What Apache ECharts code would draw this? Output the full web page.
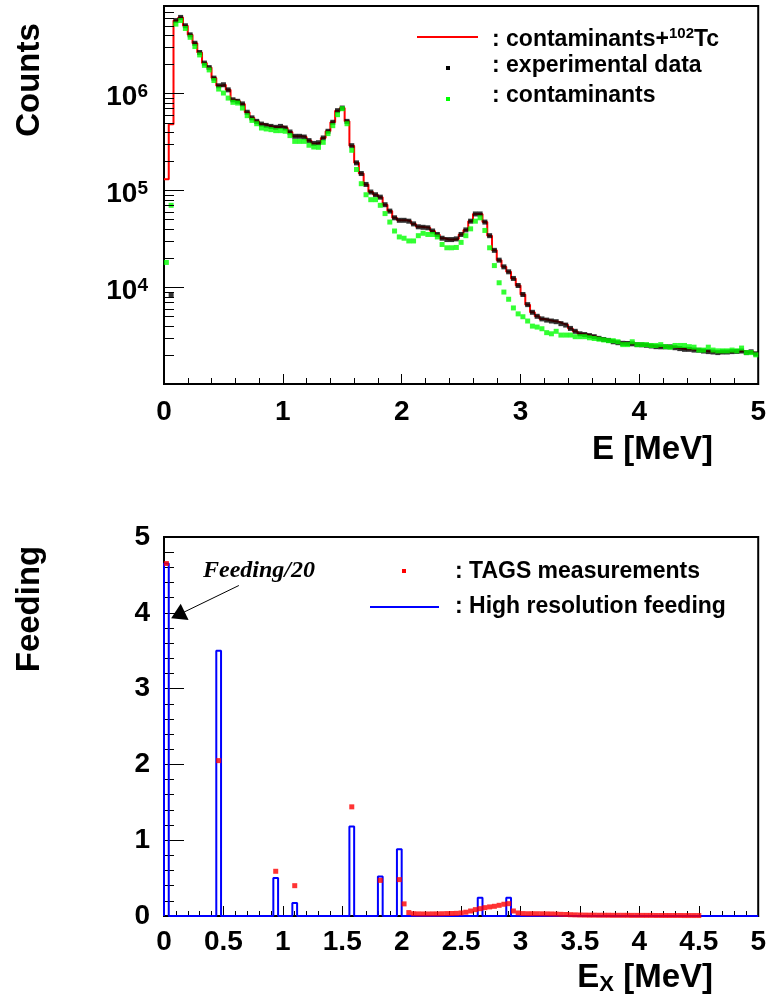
<!DOCTYPE html>
<html><head><meta charset="utf-8">
<script src="https://cdn.jsdelivr.net/npm/echarts@6/dist/echarts.min.js"></script>
<style>html,body{margin:0;padding:0;background:#fff}#c{width:769px;height:1005px}</style>
</head><body><div id="c"></div>
<script>
// ---------------- data ----------------
const BIN = 0.04;          // MeV, histogram bin width
const E_MAX = 5;
// top panel, one value per 40 keV bin from 0 to 5 MeV
const contaminantsPlusTc = [1.3e5, 4.8e5, 5.66e6, 6.1e6, 5.0e6, 4.03e6, 3.3e6, 2.65e6, 2.06e6, 1.85e6,
 1.44e6, 1.2e6, 1.23e6, 1.09e6, 8.6e5, 8.3e5, 7.8e5, 6.4e5, 5.6e5, 5.15e5,
 4.83e5, 4.68e5, 4.57e5, 4.47e5, 4.57e5, 4.4e5, 4.0e5, 3.61e5, 3.61e5, 3.55e5,
 3.26e5, 3.05e5, 3.1e5, 3.47e5, 4.07e5, 5.04e5, 6.64e5, 7.07e5, 5.15e5, 2.89e5,
 1.92e5, 1.49e5, 1.15e5, 9.6e4, 9.0e4, 8.5e4, 7.1e4, 6.1e4, 5.2e4, 4.9e4,
 4.9e4, 4.8e4, 4.5e4, 4.2e4, 4.15e4, 4.1e4, 3.8e4, 3.5e4, 3.2e4, 3.1e4,
 3.1e4, 3.15e4, 3.5e4, 3.9e4, 4.8e4, 5.7e4, 5.7e4, 4.7e4, 3.4e4, 2.4e4,
 1.9e4, 1.62e4, 1.44e4, 1.23e4, 1.04e4, 8.4e3, 6.6e3, 5.5e3, 5.0e3, 4.7e3,
 4.57e3, 4.47e3, 4.4e3, 4.2e3, 4.06e3, 3.75e3, 3.5e3, 3.3e3, 3.24e3, 3.16e3,
 3.08e3, 2.96e3, 2.88e3, 2.82e3, 2.73e3, 2.67e3, 2.63e3, 2.62e3, 2.6e3, 2.55e3,
 2.54e3, 2.51e3, 2.47e3, 2.43e3, 2.42e3, 2.42e3, 2.42e3, 2.37e3, 2.32e3, 2.28e3,
 2.28e3, 2.24e3, 2.23e3, 2.19e3, 2.16e3, 2.14e3, 2.11e3, 2.14e3, 2.14e3, 2.16e3,
 2.17e3, 2.19e3, 2.11e3, 2.15e3, 2.05e3];
const experimentalData = [null, 8.4e3, 5.66e6, 6.1e6, 5.0e6, 4.03e6, 3.3e6, 2.65e6, 2.06e6, 1.85e6,
 1.44e6, 1.2e6, 1.23e6, 1.09e6, 8.6e5, 8.3e5, 7.8e5, 6.4e5, 5.6e5, 5.15e5,
 4.83e5, 4.68e5, 4.57e5, 4.47e5, 4.57e5, 4.4e5, 4.0e5, 3.61e5, 3.61e5, 3.55e5,
 3.26e5, 3.05e5, 3.1e5, 3.47e5, 4.07e5, 5.04e5, 6.64e5, 7.07e5, 5.15e5, 2.89e5,
 1.92e5, 1.49e5, 1.15e5, 9.6e4, 9.0e4, 8.5e4, 7.1e4, 6.1e4, 5.2e4, 4.9e4,
 4.9e4, 4.8e4, 4.5e4, 4.2e4, 4.15e4, 4.1e4, 3.8e4, 3.5e4, 3.2e4, 3.1e4,
 3.1e4, 3.15e4, 3.5e4, 3.9e4, 4.8e4, 5.7e4, 5.7e4, 4.7e4, 3.4e4, 2.4e4,
 1.9e4, 1.62e4, 1.44e4, 1.23e4, 1.04e4, 8.4e3, 6.6e3, 5.5e3, 5.0e3, 4.7e3,
 4.57e3, 4.47e3, 4.4e3, 4.2e3, 4.06e3, 3.75e3, 3.5e3, 3.3e3, 3.24e3, 3.16e3,
 3.08e3, 2.96e3, 2.88e3, 2.82e3, 2.73e3, 2.67e3, 2.63e3, 2.62e3, 2.6e3, 2.55e3,
 2.54e3, 2.51e3, 2.47e3, 2.43e3, 2.42e3, 2.42e3, 2.42e3, 2.37e3, 2.32e3, 2.28e3,
 2.28e3, 2.24e3, 2.23e3, 2.19e3, 2.16e3, 2.14e3, 2.11e3, 2.14e3, 2.14e3, 2.16e3,
 2.17e3, 2.19e3, 2.11e3, 2.15e3, 2.05e3];
const contaminants = [1.8e4, 7.0e4, 5.2e6, 5.66e6, 4.69e6, 3.8e6, 3.05e6, 2.5e6, 1.95e6, 1.75e6,
 1.36e6, 1.11e6, 1.01e6, 8.96e5, 8.1e5, 7.96e5, 7.07e5, 5.9e5, 5.27e5, 4.87e5,
 4.4e5, 4.3e5, 4.23e5, 4.13e5, 4.13e5, 4.07e5, 3.67e5, 3.2e5, 3.2e5, 3.2e5,
 2.92e5, 2.8e5, 2.78e5, 3.13e5, 3.85e5, 4.65e5, 6.04e5, 6.96e5, 4.87e5, 2.59e5,
 1.64e5, 1.17e5, 9.0e4, 8.0e4, 8.0e4, 7.0e4, 5.75e4, 4.7e4, 3.8e4, 3.3e4,
 3.2e4, 3.0e4, 3.0e4, 3.4e4, 3.6e4, 3.5e4, 3.5e4, 3.3e4, 2.76e4, 2.55e4,
 2.55e4, 2.57e4, 2.9e4, 3.4e4, 4.0e4, 4.8e4, 5.2e4, 3.85e4, 2.55e4, 1.67e4,
 1.11e4, 8.9e3, 7.5e3, 6.1e3, 5.3e3, 4.95e3, 4.47e3, 3.96e3, 3.87e3, 3.72e3,
 3.39e3, 3.3e3, 3.5e3, 3.2e3, 3.2e3, 3.2e3, 3.08e3, 3.08e3, 3.08e3, 3.0e3,
 2.95e3, 2.9e3, 2.85e3, 2.8e3, 2.8e3, 2.73e3, 2.55e3, 2.55e3, 2.73e3, 2.55e3,
 2.55e3, 2.55e3, 2.5e3, 2.5e3, 2.55e3, 2.43e3, 2.4e3, 2.5e3, 2.5e3, 2.5e3,
 2.43e3, 2.4e3, 2.24e3, 2.24e3, 2.4e3, 2.24e3, 2.2e3, 2.2e3, 2.2e3, 2.24e3,
 2.2e3, 2.35e3, 2.11e3, 2.11e3, 2.0e3];
const countsTickExponents = [4, 5, 6];

// bottom panel
const tagsE = [0.02, 0.46, 0.94, 1.10, 1.58, 1.82, 1.98, 2.02, 2.06, 2.10,
 2.14, 2.18, 2.22, 2.26, 2.30, 2.34, 2.38, 2.42, 2.46, 2.50,
 2.54, 2.58, 2.62, 2.66, 2.70, 2.74, 2.78, 2.82, 2.86, 2.90,
 2.94, 2.98, 3.02, 3.06, 3.10, 3.14, 3.18, 3.22, 3.26, 3.30,
 3.34, 3.38, 3.42, 3.46, 3.50, 3.54, 3.58, 3.62, 3.66, 3.70,
 3.74, 3.78, 3.82, 3.86, 3.90, 3.94, 3.98, 4.02, 4.06, 4.10,
 4.14, 4.18, 4.22, 4.26, 4.30, 4.34, 4.38, 4.42, 4.46, 4.50];
const tagsFeeding = [4.65, 2.05, 0.59, 0.40, 1.44, 0.47, 0.48, 0.16, 0.045, 0.03,
 0.028, 0.027, 0.027, 0.028, 0.028, 0.03, 0.032, 0.033, 0.035, 0.04,
 0.05, 0.066, 0.084, 0.097, 0.11, 0.12, 0.128, 0.141, 0.155, 0.163,
 0.066, 0.04, 0.032, 0.03, 0.03, 0.03, 0.029, 0.028, 0.027, 0.025,
 0.022, 0.02, 0.017, 0.015, 0.013, 0.012, 0.011, 0.011, 0.010, 0.010,
 0.010, 0.009, 0.009, 0.009, 0.009, 0.008, 0.008, 0.008, 0.008, 0.008,
 0.007, 0.007, 0.007, 0.007, 0.007, 0.007, 0.006, 0.006, 0.006, 0.006];
const hrBinLow  = [0.00, 0.44, 0.92, 1.08, 1.56, 1.80, 1.96, 2.64, 2.88];
const hrFeeding = [4.65, 3.50, 0.50, 0.17, 1.18, 0.52, 0.88, 0.24, 0.24];

// ---------------- build ----------------
const FONT = '"Liberation Sans", Arial, Helvetica, sans-serif';
const SERIF = '"Liberation Serif", "Times New Roman", serif';

const redData = contaminantsPlusTc.map((v, k) => [k * BIN, v]);
redData.push([E_MAX, contaminantsPlusTc[contaminantsPlusTc.length - 1]]);
const blackData = [], greenData = [];
experimentalData.forEach((v, k) => { if (v != null) blackData.push([(k + 0.5) * BIN, v]); });
contaminants.forEach((v, k) => { if (v != null) greenData.push([(k + 0.5) * BIN, v]); });
const tagsData = tagsE.map((e, i) => [e, tagsFeeding[i]]);
const hrData = [[0, 0]];
hrBinLow.forEach((lo, i) => { hrData.push([lo, hrFeeding[i]]); hrData.push([lo + BIN, 0]); });
hrData.push([E_MAX, 0]);

const Y_MIN = 1000, Y_MAX = 8e6;
const logTicks = [];
for (let d = 3; d <= 6; d++) for (let m = 1; m <= 9; m++) {
  const v = m * Math.pow(10, d);
  if (v > Y_MIN && v < Y_MAX) logTicks.push([0, v, m === 1 ? 20 : 10]);
}

const axisLineStyle = { color: '#000', width: 2 };
const labelStyle = { color: '#000', fontSize: 28, fontWeight: 'bold', fontFamily: FONT };

const txt = (o) => Object.assign({ legacy: false, fill: '#000' }, o);

const option = {
  animation: false,
  backgroundColor: '#fff',
  textStyle: { fontFamily: FONT },
  grid: [
    { left: 164, top: 6, width: 597, height: 378, show: true, borderColor: '#000', borderWidth: 2, backgroundColor: 'transparent' },
    { left: 164, top: 537, width: 597, height: 379, show: true, borderColor: '#000', borderWidth: 2, backgroundColor: 'transparent' }
  ],
  xAxis: [
    { gridIndex: 0, type: 'value', min: 0, max: E_MAX, interval: 1,
      axisLine: { lineStyle: axisLineStyle }, splitLine: { show: false },
      axisTick: { inside: true, length: 10, lineStyle: { color: '#000', width: 1 } },
      minorTick: { show: true, splitNumber: 5, length: 6, lineStyle: { color: '#000', width: 1 } },
      axisLabel: Object.assign({ margin: 14 }, labelStyle) },
    { gridIndex: 1, type: 'value', min: 0, max: E_MAX, interval: 0.5,
      axisLine: { lineStyle: axisLineStyle }, splitLine: { show: false },
      axisTick: { inside: true, length: 10, lineStyle: { color: '#000', width: 1 } },
      minorTick: { show: true, splitNumber: 5, length: 5, lineStyle: { color: '#000', width: 1 } },
      axisLabel: Object.assign({ margin: 12 }, labelStyle) }
  ],
  yAxis: [
    { gridIndex: 0, type: 'log', logBase: 10, min: Y_MIN, max: Y_MAX,
      axisLine: { show: true, lineStyle: axisLineStyle }, splitLine: { show: false },
      axisTick: { show: false }, minorTick: { show: false },
      axisLabel: { margin: 16, padding: [8, 0, 0, 0],
        formatter: (v) => {
          const e = Math.round(Math.log10(v));
          if (Math.abs(Math.log10(v) - e) > 1e-6 || countsTickExponents.indexOf(e) < 0) return '';
          return '{b|10}{s|' + e + '}';
        },
        rich: {
          b: { color: '#000', fontSize: 28, fontWeight: 'bold', fontFamily: FONT, lineHeight: 30 },
          s: { color: '#000', fontSize: 19, fontWeight: 'bold', fontFamily: FONT, lineHeight: 14, verticalAlign: 'top' }
        } } },
    { gridIndex: 1, type: 'value', min: 0, max: 5, interval: 1,
      axisLine: { show: true, lineStyle: axisLineStyle }, splitLine: { show: false },
      axisTick: { inside: true, length: 20, lineStyle: { color: '#000', width: 1 } },
      minorTick: { show: true, splitNumber: 5, length: 10, lineStyle: { color: '#000', width: 1 } },
      axisLabel: Object.assign({ margin: 14 }, labelStyle) }
  ],
  series: [
    { name: 'contaminants+102Tc', type: 'line', xAxisIndex: 0, yAxisIndex: 0, step: 'end', data: redData,
      symbol: 'none', lineStyle: { color: '#ff0000', width: 2 }, silent: true, z: 2 },
    { name: 'experimental data', type: 'scatter', xAxisIndex: 0, yAxisIndex: 0, data: blackData,
      symbol: 'rect', symbolSize: 5, itemStyle: { color: '#000' }, silent: true, z: 3 },
    { name: 'contaminants', type: 'scatter', xAxisIndex: 0, yAxisIndex: 0, data: greenData,
      symbol: 'rect', symbolSize: 5, itemStyle: { color: '#00ff00' }, silent: true, z: 4 },
    { name: 'logTicks', type: 'custom', xAxisIndex: 0, yAxisIndex: 0, data: logTicks, silent: true, z: 5,
      dimensions: ['x', 'y', 'len'], encode: { x: 0, y: 1 },
      renderItem: (params, api) => {
        const p = api.coord([api.value(0), api.value(1)]);
        const len = api.value(2);
        return { type: 'line', shape: { x1: p[0], y1: Math.round(p[1]) + 0.5, x2: p[0] + len, y2: Math.round(p[1]) + 0.5 },
                 style: { stroke: '#000', lineWidth: 1 } };
      } },
    { name: 'High resolution feeding', type: 'line', xAxisIndex: 1, yAxisIndex: 1, step: 'end', data: hrData,
      symbol: 'none', lineStyle: { color: '#0000ff', width: 2 }, silent: true, z: 3,
      markLine: { silent: true, symbol: ['none', 'triangle'], symbolSize: [18, 15],
        lineStyle: { color: '#000', width: 1, type: 'solid' }, itemStyle: { color: '#000' },
        label: { show: false }, emphasis: { disabled: true },
        data: [[{ coord: [0.63, 4.36] }, { coord: [0.117, 3.97] }]] } },
    { name: 'TAGS measurements', type: 'scatter', xAxisIndex: 1, yAxisIndex: 1, data: tagsData,
      symbol: 'rect', symbolSize: 5, itemStyle: { color: '#ff0000' }, silent: true, z: 4 }
  ],
  graphic: [
    { type: 'text', x: 30, y: 80, rotation: Math.PI / 2,
      style: txt({ text: 'Counts', font: 'bold 33px ' + FONT, align: 'center', verticalAlign: 'middle' }) },
    { type: 'text', x: 713, y: 450,
      style: txt({ text: 'E [MeV]', font: 'bold 33px ' + FONT, align: 'right', verticalAlign: 'middle' }) },
    { type: 'text', x: 30, y: 609, rotation: Math.PI / 2,
      style: txt({ text: 'Feeding', font: 'bold 33px ' + FONT, align: 'center', verticalAlign: 'middle' }) },
    { type: 'text', x: 713, y: 978,
      style: txt({ text: '{b|E}{s|X}{b| [MeV]}', align: 'right', verticalAlign: 'middle',
        rich: { b: { fill: '#000', font: 'bold 33px ' + FONT, lineHeight: 36 },
                s: { fill: '#000', font: 'bold 22px ' + FONT, lineHeight: 10, verticalAlign: 'bottom' } } }) },
    // top legend
    { type: 'line', shape: { x1: 417, y1: 37, x2: 478, y2: 37 }, style: { stroke: '#ff0000', lineWidth: 2 } },
    { type: 'text', x: 492, y: 40,
      style: txt({ text: '{a|: contaminants+}{s|102}{a|Tc}', align: 'left', verticalAlign: 'middle',
        rich: { a: { fill: '#000', font: 'bold 23px ' + FONT, lineHeight: 28 },
                s: { fill: '#000', font: 'bold 15px ' + FONT, lineHeight: 12, verticalAlign: 'top' } } }) },
    { type: 'rect', shape: { x: 446, y: 66, width: 4, height: 4 }, style: { fill: '#000' } },
    { type: 'text', x: 492, y: 66,
      style: txt({ text: ': experimental data', font: 'bold 23px ' + FONT, align: 'left', verticalAlign: 'middle' }) },
    { type: 'rect', shape: { x: 446, y: 97, width: 4, height: 4 }, style: { fill: '#00ff00' } },
    { type: 'text', x: 492, y: 96,
      style: txt({ text: ': contaminants', font: 'bold 23px ' + FONT, align: 'left', verticalAlign: 'middle' }) },
    // bottom legend
    { type: 'rect', shape: { x: 402, y: 569, width: 4, height: 4 }, style: { fill: '#ff0000' } },
    { type: 'text', x: 455, y: 572,
      style: txt({ text: ': TAGS measurements', font: 'bold 23px ' + FONT, align: 'left', verticalAlign: 'middle' }) },
    { type: 'line', shape: { x1: 370, y1: 607, x2: 439, y2: 607 }, style: { stroke: '#0000ff', lineWidth: 2 } },
    { type: 'text', x: 455, y: 607,
      style: txt({ text: ': High resolution feeding', font: 'bold 23px ' + FONT, align: 'left', verticalAlign: 'middle' }) },
    // annotation
    { type: 'text', x: 203, y: 571,
      style: txt({ text: 'Feeding/20', font: 'italic bold 24px ' + SERIF, align: 'left', verticalAlign: 'middle' }) }
  ]
};
const chart = echarts.init(document.getElementById('c'));
chart.setOption(option);
</script></body></html>
